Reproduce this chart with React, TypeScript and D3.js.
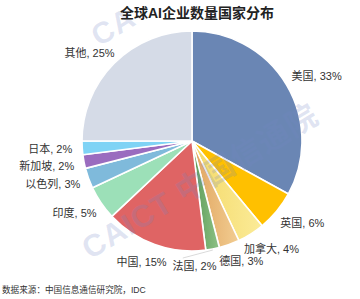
import React from "react";
import * as d3 from "d3";

// Share of AI companies by country (%)
const countries = ["美国", "英国", "加拿大", "德国", "法国", "中国", "印度", "以色列", "新加坡", "日本", "其他"];
const shares = [33, 6, 4, 3, 2, 15, 5, 3, 2, 2, 25];
const colors = ["#6a86b4", "#ffc000", "#f6df74", "#e6b06b", "#6aa664", "#df6464", "#9ce0b8", "#7fbadb", "#9a6cbf", "#7fd3f5", "#d5dbe7"];
// gradient pairs for the slices that are shaded
const gradients: Record<number, [string, string]> = {
  2: ["#f4d968", "#fbeb98"],
  3: ["#e0a45e", "#f2cd92"],
  4: ["#5c9a57", "#8dc286"],
};
// label nudges (dx, dy) relative to the arc-based anchor
const labelNudge: [number, number][] = [
  [-8, -1], [-8, 2], [-15, 2.5], [-15, 2.5], [1, 2], [17, 3.5], [8, 2], [6, 1], [5, 2], [5, 0], [11, 0],
];

const W = 360;
const H = 299;
const cx = 192;
const cy = 141;
const R = 110;
const font = "'Liberation Sans', Arial, 'Noto Sans CJK SC', sans-serif";

export default function App() {
  const pie = d3.pie<number>().sort(null).value((d) => d)(shares);
  const arc = d3.arc<d3.PieArcDatum<number>>().innerRadius(0).outerRadius(R);
  const total = d3.sum(shares);

  return (
    <svg
      width={W}
      height={H}
      viewBox={`0 0 ${W} ${H}`}
      style={{ position: "absolute", left: 0, top: 0, background: "#fff" }}
      fontFamily={font}
    >
      <defs>
        {Object.entries(gradients).map(([k, [c0, c1]]) => (
          <linearGradient key={k} id={`g${k}`} x1="0" y1="0" x2="1" y2="0">
            <stop offset="0%" stopColor={c0} />
            <stop offset="100%" stopColor={c1} />
          </linearGradient>
        ))}
      </defs>
      <rect width={W} height={H} fill="#fff" />
      <g transform={`translate(${cx},${cy})`}>
        {pie.map((p, i) => (
          <path
            key={i}
            d={arc(p) || ""}
            fill={gradients[i] ? `url(#g${i})` : colors[i]}
            stroke="#fff"
            strokeWidth={1.6}
            strokeLinejoin="round"
          />
        ))}
      </g>
      {/* leader line for the narrow 法国 slice */}
      {(() => {
        const p = pie[4];
        const a = (p.startAngle + p.endAngle) / 2;
        const x0 = cx + (R + 1) * Math.sin(a);
        const y0 = cy - (R + 1) * Math.cos(a);
        return <line x1={x0} y1={y0} x2={x0 - 30} y2={y0 + 8} stroke="#d0d0d0" strokeWidth={0.8} />;
      })()}
      {pie.map((p, i) => {
        const a = (p.startAngle + p.endAngle) / 2;
        const lx = cx + (R + 15) * Math.sin(a) + labelNudge[i][0];
        const ly = cy - (R + 15) * Math.cos(a) + labelNudge[i][1];
        const right = Math.sin(a) > 0.3;
        const pct = Math.round((shares[i] / total) * 100);
        return (
          <text
            key={i}
            x={lx}
            y={ly}
            fontSize={11}
            fill="#333"
            textAnchor={right ? "start" : "end"}
            dominantBaseline="central"
          >
            {`${countries[i]}, ${pct}%`}
          </text>
        );
      })}
      {/* watermark */}
      <g fontWeight="bold" fill="#7486c4" fillOpacity={0.22}>
        <text transform="translate(90,260) rotate(-31)" fontSize={31} letterSpacing={1}>
          CAICT 中国信通院
        </text>
        <text transform="translate(99,47) rotate(-31)" fontSize={30} letterSpacing={1}>
          CA
        </text>
      </g>
      <text x={197} y={13} fontSize={14} fontWeight="bold" fill="#222" textAnchor="middle" dominantBaseline="central">
        全球AI企业数量国家分布
      </text>
      <text x={2} y={290} fontSize={8.6} fill="#333" dominantBaseline="central">
        数据来源：中国信息通信研究院，IDC
      </text>
    </svg>
  );
}
